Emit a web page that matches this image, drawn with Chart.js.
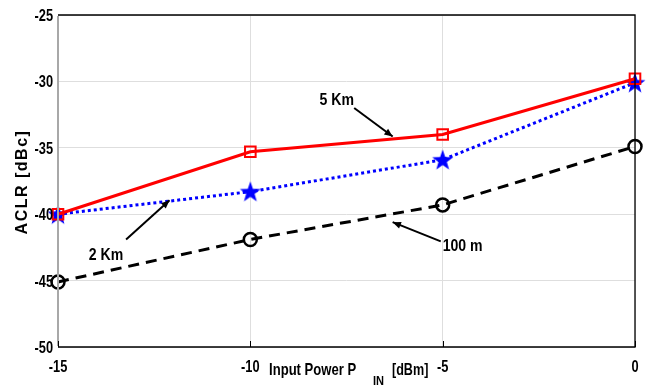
<!DOCTYPE html>
<html>
<head>
<meta charset="utf-8">
<script src="https://cdn.jsdelivr.net/npm/chart.js@4.4.1/dist/chart.umd.min.js"></script>
<style>
  html, body { margin: 0; padding: 0; background: #fff; }
  #grafikAclr { display: block; }
</style>
</head>
<body>
<canvas id="grafikAclr" width="650" height="386"></canvas>
<script>
// input power in dBm
const inputPower = [-15, -10, -5, 0];
// ACLR values in dBc
const aclr5Km = [-40, -35.3, -34.0, -29.8];
const aclr2Km = [-40, -38.3, -35.9, -30.1];
const aclr100m = [-45.1, -41.9, -39.3, -34.9];

const xTicks = [-15, -10, -5, 0];
const yTicks = [-50, -45, -40, -35, -30, -25];

// text labels with arrows (data coords)
const notes = [
    { text: '5 Km', tx: -8.2, ty: -31.3, from: [-7.3, -32.0], to: [-6.3, -34.15] },
    { text: '2 Km', tx: -14.2, ty: -43.0, from: [-13.23, -41.9], to: [-12.1, -38.95] },
    { text: '100 m', tx: -5.0, ty: -42.3, from: [-5.05, -42.05], to: [-6.3, -40.6] }
];

const fontUtama = "'Liberation Sans', Arial, sans-serif";

function toPoints(ys) {
    return inputPower.map(function (x, i) { return { x: x, y: ys[i] }; });
}

// draws condensed bold text by squeezing it horizontally
function tulisSempit(ctx, text, x, y, size, align, sx) {
    ctx.save();
    ctx.font = 'bold ' + size + 'px ' + fontUtama;
    ctx.textBaseline = 'alphabetic';
    ctx.textAlign = 'left';
    let w = ctx.measureText(text).width * sx;
    let x0 = x;
    if (align === 'center') x0 = x - w / 2;
    if (align === 'right') x0 = x - w;
    ctx.translate(x0, y);
    ctx.scale(sx, 1);
    ctx.fillText(text, 0, 0);
    ctx.restore();
    return w;
}

// blue five point star used as marker
function buatBintang() {
    let c = document.createElement('canvas');
    c.width = 24;
    c.height = 24;
    let g = c.getContext('2d');
    g.beginPath();
    for (let i = 0; i < 10; i++) {
        let r = i % 2 === 0 ? 11 : 4.4;
        let a = -Math.PI / 2 + i * Math.PI / 5;
        let px = 12 + r * Math.cos(a);
        let py = 12.8 + r * Math.sin(a);
        if (i === 0) g.moveTo(px, py); else g.lineTo(px, py);
    }
    g.closePath();
    g.fillStyle = '#0000ff';
    g.fill();
    return c;
}

const annotasi = {
    id: 'annotasi',
    afterDraw(chart) {
        const ctx = chart.ctx;
        const a = chart.chartArea;
        const x = chart.scales.x;
        const y = chart.scales.y;
        ctx.save();

        // box around plot
        ctx.lineWidth = 1.3;
        ctx.strokeStyle = '#000';
        ctx.beginPath();
        ctx.moveTo(a.left, a.top);
        ctx.lineTo(a.right, a.top);
        ctx.lineTo(a.right, a.bottom);
        ctx.lineTo(a.left, a.bottom);
        ctx.stroke();
        ctx.strokeStyle = '#a8a8a8';
        ctx.lineWidth = 2;
        ctx.beginPath();
        ctx.moveTo(a.left, a.top + 1);
        ctx.lineTo(a.left, a.bottom - 1);
        ctx.stroke();

        // small inner tick marks
        ctx.strokeStyle = '#000';
        ctx.lineWidth = 1;
        xTicks.forEach(function (v) {
            let px = Math.round(x.getPixelForValue(v)) + 0.5;
            ctx.beginPath();
            ctx.moveTo(px, a.bottom);
            ctx.lineTo(px, a.bottom - 6);
            ctx.stroke();
        });

        // tick labels
        ctx.fillStyle = '#000';
        xTicks.forEach(function (v) {
            tulisSempit(ctx, String(v), x.getPixelForValue(v), 372, 16, 'center', 0.8);
        });
        yTicks.forEach(function (v) {
            tulisSempit(ctx, String(v), 53, y.getPixelForValue(v) + 6, 16, 'right', 0.8);
        });

        // notes + arrows
        notes.forEach(function (n) {
            let x0 = x.getPixelForValue(n.from[0]);
            let y0 = y.getPixelForValue(n.from[1]);
            let x1 = x.getPixelForValue(n.to[0]);
            let y1 = y.getPixelForValue(n.to[1]);
            ctx.strokeStyle = '#000';
            ctx.fillStyle = '#000';
            ctx.lineWidth = 2;
            ctx.beginPath();
            ctx.moveTo(x0, y0);
            ctx.lineTo(x1, y1);
            ctx.stroke();
            let ang = Math.atan2(y1 - y0, x1 - x0);
            ctx.beginPath();
            ctx.moveTo(x1, y1);
            ctx.lineTo(x1 - 9 * Math.cos(ang - 0.4), y1 - 9 * Math.sin(ang - 0.4));
            ctx.lineTo(x1 - 9 * Math.cos(ang + 0.4), y1 - 9 * Math.sin(ang + 0.4));
            ctx.closePath();
            ctx.fill();

            tulisSempit(ctx, n.text, x.getPixelForValue(n.tx), y.getPixelForValue(n.ty) + 6, 16, 'left', 0.88);
        });

        // x axis title, placed between the -10 and -5 ticks (subscript spaced like the original)
        let by = 375;
        tulisSempit(ctx, 'Input Power P', 269, by, 17, 'left', 0.77);
        tulisSempit(ctx, 'IN', 373, by + 10, 13, 'left', 0.85);
        tulisSempit(ctx, '[dBm]', 392, by, 17, 'left', 0.74);

        // y axis title
        ctx.translate(23, (a.top + a.bottom) / 2 + 1);
        ctx.rotate(-Math.PI / 2);
        ctx.font = 'bold 16px ' + fontUtama;
        ctx.letterSpacing = '1.5px';
        ctx.textAlign = 'center';
        ctx.textBaseline = 'middle';
        ctx.fillText('ACLR [dBc]', 0, 0);
        ctx.restore();
    }
};

new Chart(document.getElementById('grafikAclr'), {
    type: 'line',
    data: {
        datasets: [{
            label: '5 Km',
            data: toPoints(aclr5Km),
            borderColor: '#ff0000',
            borderWidth: 3,
            pointStyle: 'rect',
            pointRadius: 7.5,
            pointBorderWidth: 2,
            pointBorderColor: '#ff0000',
            pointBackgroundColor: 'rgba(0,0,0,0)'
        }, {
            label: '2 Km',
            data: toPoints(aclr2Km),
            borderColor: '#0000ff',
            borderWidth: 3,
            borderDash: [3, 3],
            pointStyle: buatBintang(),
            pointRadius: 12
        }, {
            label: '100 m',
            data: toPoints(aclr100m),
            borderColor: '#000000',
            borderWidth: 3,
            borderDash: [11, 7],
            pointStyle: 'circle',
            pointRadius: 6.5,
            pointBorderWidth: 2.5,
            pointBorderColor: '#000',
            pointBackgroundColor: 'rgba(0,0,0,0)'
        }]
    },
    options: {
        responsive: false,
        animation: false,
        clip: false,
        layout: { padding: { top: 13, right: 15, left: 0, bottom: 0 } },
        plugins: {
            legend: { display: false },
            tooltip: { enabled: false }
        },
        scales: {
            x: {
                type: 'linear',
                min: -15,
                max: 0,
                afterFit: function (s) { s.height = 39; },
                afterBuildTicks: function (s) { s.ticks = xTicks.map(function (v) { return { value: v }; }); },
                grid: { color: '#dedede', lineWidth: 1, drawTicks: false },
                border: { display: false },
                ticks: { display: false }
            },
            y: {
                min: -50,
                max: -25,
                afterFit: function (s) { s.width = 58; },
                afterBuildTicks: function (s) { s.ticks = yTicks.map(function (v) { return { value: v }; }); },
                grid: { color: '#dedede', lineWidth: 1, drawTicks: false },
                border: { display: false },
                ticks: { display: false }
            }
        }
    },
    plugins: [annotasi]
});
</script>
</body>
</html>
